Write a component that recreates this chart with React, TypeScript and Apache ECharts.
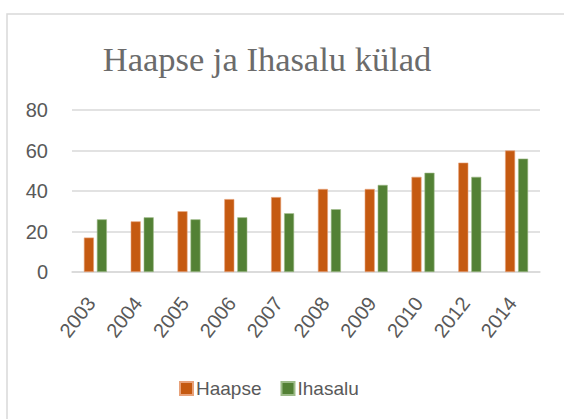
import React, { useEffect, useRef } from "react";
import * as echarts from "echarts";

const title = "Haapse ja Ihasalu külad";
const categories = ["2003", "2004", "2005", "2006", "2007", "2008", "2009", "2010", "2012", "2014"];
const haapse = [17, 25, 30, 36, 37, 41, 41, 47, 54, 60];
const ihasalu = [26, 27, 26, 27, 29, 31, 43, 49, 47, 56];
const seriesNames = ["Haapse", "Ihasalu"];

export default function App() {
  const ref = useRef<HTMLDivElement>(null);
  useEffect(() => {
    if (!ref.current) return;
    const chart = echarts.init(ref.current, undefined, { renderer: "svg" });
    const font = "Liberation Sans";
    chart.setOption({
      animation: false,
      backgroundColor: "#ffffff",
      title: {
        text: title,
        left: 262,
        textAlign: "center",
        top: 36,
        textStyle: {
          fontFamily: "Liberation Serif",
          fontSize: 34.5,
          fontWeight: "normal",
          color: "#6b6b6b",
        },
      },
      graphic: [
        {
          type: "rect",
          shape: { x: 7, y: 14, width: 620, height: 480 },
          style: { fill: "none", stroke: "#D9D9D9", lineWidth: 1.5 },
          silent: true,
          z: -1,
        },
      ],
      legend: {
        data: seriesNames,
        top: 374,
        left: 174,
        itemWidth: 13,
        itemHeight: 13,
        itemGap: 19,
        icon: "rect",
        textStyle: { fontFamily: font, fontSize: 19, color: "#595959", padding: [0, 0, 0, -2] },
      },
      grid: { left: 72, right: 24, top: 110, bottom: 147 },
      xAxis: {
        type: "category",
        data: categories,
        axisLine: { lineStyle: { color: "#D9D9D9", width: 1.5 } },
        axisTick: { show: false },
        axisLabel: {
          rotate: 52,
          interval: 0,
          margin: 22,
          padding: [0, 7, 0, 0],
          fontFamily: font,
          fontSize: 20,
          color: "#595959",
        },
      },
      yAxis: {
        type: "value",
        min: 0,
        max: 80,
        interval: 20,
        axisLine: { show: false },
        axisTick: { show: false },
        splitLine: { lineStyle: { color: "#D9D9D9", width: 1.5 } },
        axisLabel: { fontFamily: font, fontSize: 20, color: "#595959", margin: 24 },
      },
      series: [
        {
          name: seriesNames[0],
          type: "bar",
          data: haapse,
          barWidth: 10,
          barGap: "30%",
          itemStyle: { color: "#C55A11", borderColor: "#E8A27A", borderWidth: 0.6 },
        },
        {
          name: seriesNames[1],
          type: "bar",
          data: ihasalu,
          barWidth: 10,
          barGap: "30%",
          itemStyle: { color: "#538135", borderColor: "#9DBB88", borderWidth: 0.6 },
        },
      ],
    });
    return () => chart.dispose();
  }, []);
  return (
    <div
      ref={ref}
      style={{ position: "fixed", left: 0, top: 0, width: 564, height: 419 }}
    />
  );
}
